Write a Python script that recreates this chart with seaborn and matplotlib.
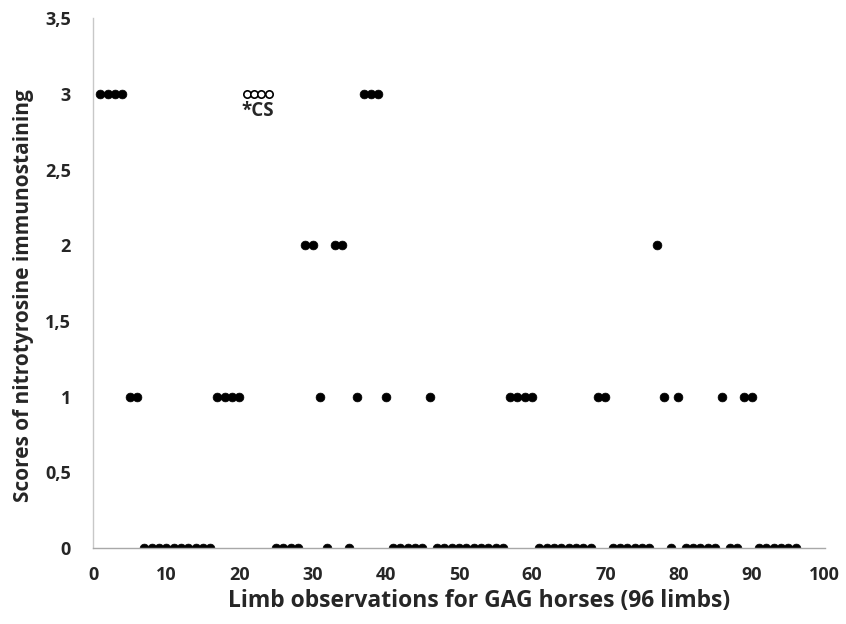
import numpy as np
import pandas as pd
import matplotlib
matplotlib.use("Agg")
import matplotlib.pyplot as plt
import seaborn as sns
from matplotlib.ticker import FuncFormatter, MultipleLocator

# scores of nitrotyrosine immunostaining, limb 1..96 in order
scores = [3, 3, 3, 3, 1, 1, 0, 0, 0, 0, 0, 0, 0, 0, 0, 0,
          1, 1, 1, 1, 3, 3, 3, 3, 0, 0, 0, 0, 2, 2, 1, 0,
          2, 2, 0, 1, 3, 3, 3, 1, 0, 0, 0, 0, 0, 1, 0, 0,
          0, 0, 0, 0, 0, 0, 0, 0, 1, 1, 1, 1, 0, 0, 0, 0,
          0, 0, 0, 0, 1, 1, 0, 0, 0, 0, 0, 0, 2, 1, 0, 1,
          0, 0, 0, 0, 0, 1, 0, 0, 1, 1, 0, 0, 0, 0, 0, 0]
limbs = list(range(1, len(scores) + 1))
cs_limbs = [21, 22, 23, 24]  # open circles, marked *CS

df = pd.DataFrame({"limb": limbs, "score": scores})
df["cs"] = df["limb"].isin(cs_limbs)

sns.set_style("white")
plt.rcParams["font.family"] = ["Open Sans", "DejaVu Sans"]

fig = plt.figure(figsize=(8.46, 6.24), dpi=100)
ax = fig.add_axes([0.110, 0.1218, 0.865, 0.849])

sns.scatterplot(data=df[~df["cs"]], x="limb", y="score", ax=ax,
                color="black", s=40, edgecolor="black", linewidth=0.5)
sns.scatterplot(data=df[df["cs"]], x="limb", y="score", ax=ax,
                facecolor="white", s=28, edgecolor="black", linewidth=1.2)

ax.text(22.5, 2.89, "*CS", ha="center", va="center", fontsize=13.5, fontweight="bold")

ax.set_xlim(0, 100)
ax.set_ylim(0, 3.5)
ax.xaxis.set_major_locator(MultipleLocator(10))
ax.yaxis.set_major_locator(MultipleLocator(0.5))
ax.yaxis.set_major_formatter(FuncFormatter(lambda v, p: f"{v:g}".replace(".", ",")))

for side in ["top", "right"]:
    ax.spines[side].set_visible(False)
ax.spines["left"].set_color("#c8c8c8")
ax.spines["bottom"].set_color("#a8a8a8")
ax.spines["left"].set_linewidth(1)
ax.spines["bottom"].set_linewidth(1)
ax.tick_params(axis="x", length=0, labelsize=13, pad=13)
ax.tick_params(axis="y", length=0, labelsize=13, pad=16)
for lab in ax.get_xticklabels() + ax.get_yticklabels():
    lab.set_fontweight("bold")

ax.set_xlabel("Limb observations for GAG horses (96 limbs)", fontsize=16.5,
              fontweight="bold")
ax.set_ylabel("Scores of nitrotyrosine immunostaining", fontsize=15,
              fontweight="bold")
ax.xaxis.set_label_coords(0.528, -0.077)
ax.yaxis.set_label_coords(-0.081, 0.477)

fig.savefig("out.png", dpi=100)
